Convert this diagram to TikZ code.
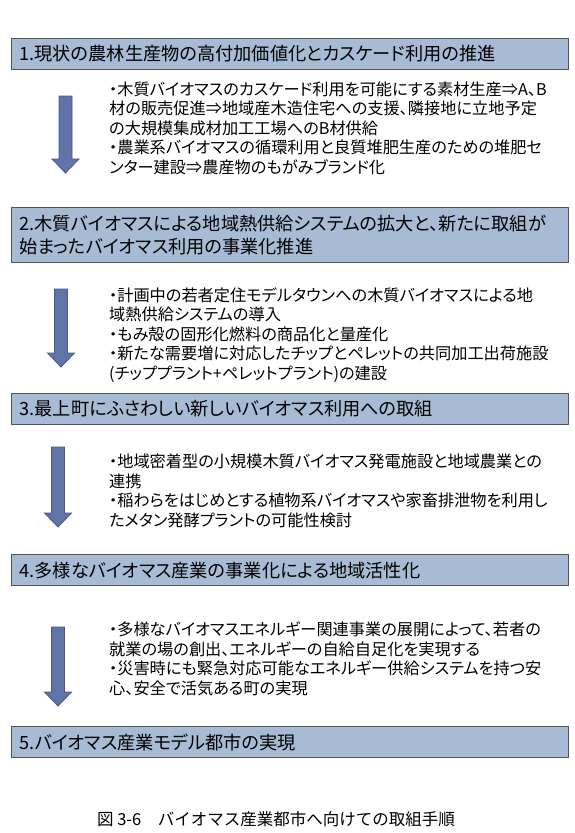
\documentclass[tikz,border=0pt]{standalone}
\usepackage{fontspec}
\setmainfont{Noto Sans CJK JP}[CharacterWidth=AlternateProportional]
\newfontfamily\capfont{Noto Sans CJK JP}
\usepackage{tikz}

\definecolor{boxblue}{RGB}{167,187,212}
\definecolor{boxedge}{RGB}{85,85,85}
\definecolor{arrowblue}{RGB}{96,116,168}
\definecolor{arrowedge}{RGB}{72,88,135}

\tikzset{
  stagebox/.style={draw=boxedge, line width=1.2pt, fill=boxblue, anchor=north west,
    minimum width=557pt, text width=541pt, inner xsep=8pt, align=left,
    font=\fontsize{18.2}{23.5}\selectfont},
  itemtext/.style={anchor=west, align=left, inner sep=0pt,
    font=\fontsize{16.2}{19.5}\selectfont},
  blockarrow/.style={fill=arrowblue, draw=arrowedge, line width=0.8pt}
}

\begin{document}
\begin{tikzpicture}[x=1pt,y=-1pt]
	  \useasboundingbox (0,0) rectangle (574,833);
	  % stages
	  \node[stagebox, minimum height=31pt] (s1) at (11,38) {1.現状の農林生産物の高付加価値化とカスケード利用の推進};
	  \node[stagebox, minimum height=55pt] (s2) at (11,207) {2.木質バイオマスによる地域熱供給システムの拡大と、新たに取組が\\始まったバイオマス利用の事業化推進};
	  \node[stagebox, minimum height=31pt] (s3) at (11,393) {3.最上町にふさわしい新しいバイオマス利用への取組};
	  \node[stagebox, minimum height=31pt] (s4) at (11,554) {4.多様なバイオマス産業の事業化による地域活性化};
	  \node[stagebox, minimum height=31pt] (s5) at (11,726) {5.バイオマス産業モデル都市の実現};
	  % items
	  \node[itemtext] (t1) at (109,128) {・木質バイオマスのカスケード利用を可能にする素材生産⇒A、B\\材の販売促進⇒地域産木造住宅への支援、隣接地に立地予定\\の大規模集成材加工工場へのB材供給\\・農業系バイオマスの循環利用と良質堆肥生産のための堆肥セ\\ンター建設⇒農産物のもがみブランド化};
	  \node[itemtext] (t2) at (109,335) {・計画中の若者定住モデルタウンへの木質バイオマスによる地\\域熱供給システムの導入\\・もみ殻の固形化燃料の商品化と量産化\\・新たな需要増に対応したチップとペレットの共同加工出荷施設\\(チッププラント+ペレットプラント)の建設};
	  \node[itemtext] (t3) at (109,491) {・地域密着型の小規模木質バイオマス発電施設と地域農業との\\連携\\・稲わらをはじめとする植物系バイオマスや家畜排泄物を利用し\\たメタン発酵プラントの可能性検討};
	  \node[itemtext] (t4) at (109,659) {・多様なバイオマスエネルギー関連事業の展開によって、若者の\\就業の場の創出、エネルギーの自給自足化を実現する\\・災害時にも緊急対応可能なエネルギー供給システムを持つ安\\心、安全で活気ある町の実現};
	  % arrows
	  \foreach \x/\t/\b in {65.5/96/173, 61/289/367, 58/447/527, 58/627/706}
	    \draw[blockarrow] ({\x-6.5},\t) -- ({\x+6.5},\t) -- ({\x+6.5},\b-14) -- ({\x+13.5},\b-14)
	      -- (\x,\b) -- ({\x-13.5},\b-14) -- ({\x-6.5},\b-14) -- cycle;
	  % caption
	  \node[font=\capfont\fontsize{16.5}{18}\selectfont] (cap) at (276,819) {図 3-6　バイオマス産業都市へ向けての取組手順};
	\end{tikzpicture}
\end{document}
